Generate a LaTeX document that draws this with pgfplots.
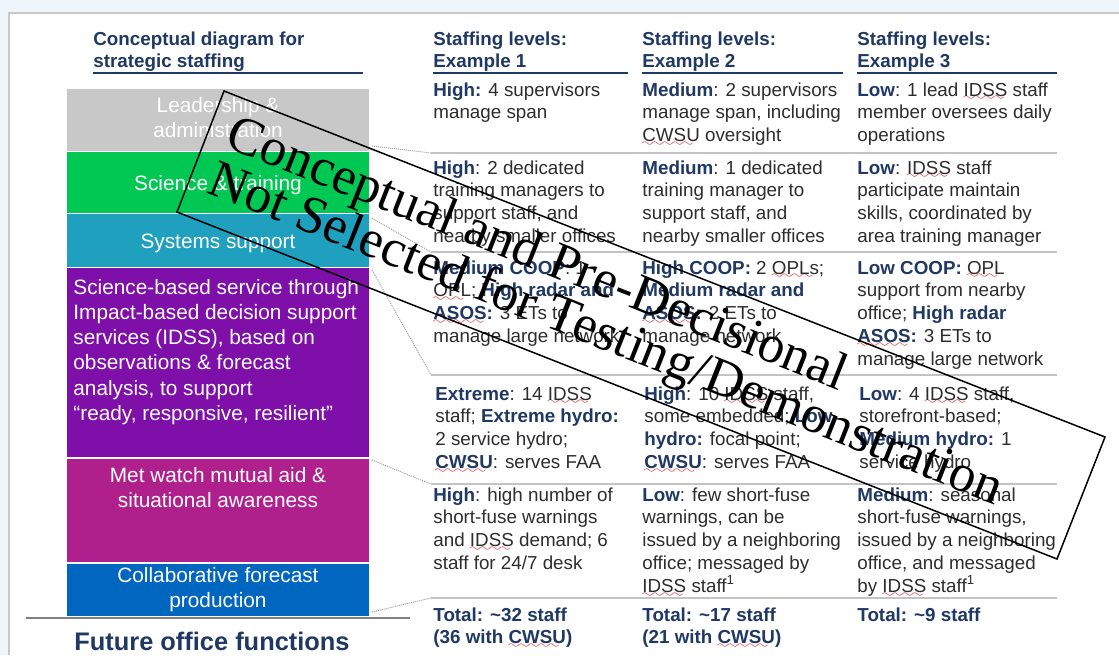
\documentclass[border=0pt]{standalone}
\usepackage{pgfplots}
\pgfplotsset{compat=1.18}
\usepackage{fontspec}
\setmainfont{Liberation Sans}
\newfontfamily\wmfont{Liberation Serif}
\definecolor{navy}{RGB}{31,56,100}
\definecolor{bodytxt}{RGB}{45,45,45}
\definecolor{sqred}{RGB}{225,50,50}
\definecolor{bggray}{RGB}{200,200,200}
\definecolor{bggreen}{RGB}{0,200,82}
\definecolor{bgteal}{RGB}{31,160,190}
\definecolor{bgpurple}{RGB}{126,15,168}
\definecolor{bgmagenta}{RGB}{176,32,140}
\definecolor{bgblue}{RGB}{0,102,192}
\definecolor{pagebg}{RGB}{238,246,252}
\definecolor{sepgray}{RGB}{195,195,195}
\font\sixly=lasy6
\newsavebox\sqbox
\newcommand\sq[1]{\leavevmode\sbox\sqbox{#1}\rlap{\textcolor{sqred}{\lower2.4pt\hbox to\wd\sqbox{\leaders\hbox{\sixly\char58}\hfill}}}\usebox\sqbox}
\newcommand\tb{\fontsize{9.4}{11.4}\selectfont}
\newcommand\bt{\fontsize{10.4}{12.65}\selectfont}
\newcommand\B[1]{\textbf{\color{navy}#1}}
\newcommand\cell[3]{\node[anchor=base west,inner sep=0pt,text=bodytxt] at (axis cs:#1,#2) {\parbox[t]{120pt}{\raggedright\tb #3}};}
\pgfplotsset{pixframe/.style={
  width=559.5pt, height=327.5pt, scale only axis, at={(0,0)}, anchor=south west,
  xmin=0, xmax=1119, ymin=0, ymax=655, y dir=reverse,
  hide axis, clip=false, enlargelimits=false}}
\begin{document}
\begin{tikzpicture}
% page background and white panel
\fill[pagebg] (0,0) rectangle (559.5pt,327.5pt);
\fill[white] (4.5pt,0) rectangle (559.5pt,321pt);
\draw[bggray,line width=0.8pt] (4.5pt,0) -- (4.5pt,321pt) -- (559.5pt,321pt);
% stacked column of office functions (heights in picture units, top to bottom)
\begin{axis}[pixframe, ybar stacked, bar width=304]
\addplot[fill=none, draw=none] coordinates {(218,88)};
\addplot[fill=bggray, draw=white, line width=0.7pt] coordinates {(218,63.5)};
\addplot[fill=bggreen, draw=white, line width=0.7pt] coordinates {(218,62)};
\addplot[fill=bgteal, draw=white, line width=0.7pt] coordinates {(218,54)};
\addplot[fill=bgpurple, draw=white, line width=0.7pt] coordinates {(218,190.5)};
\addplot[fill=bgmagenta, draw=white, line width=0.7pt] coordinates {(218,105)};
\addplot[fill=bgblue, draw=white, line width=0.7pt] coordinates {(218,54)};
\end{axis}
\begin{axis}[pixframe]
% baseline
\draw[gray, line width=1pt] (axis cs:26,617.5) -- (axis cs:410,617.5);
\node[anchor=base, inner sep=0pt, text=navy, font=\bfseries\fontsize{12.7}{14}\selectfont] at (axis cs:212,650) {Future office functions};

% bar labels
\node[anchor=base, inner sep=0pt, text=white] at (axis cs:218,112) {\parbox[t]{150pt}{\centering\bt Leadership \&\\administration}};
\node[anchor=base, inner sep=0pt, text=white] at (axis cs:218,190) {\parbox[t]{150pt}{\centering\bt Science \& training}};
\node[anchor=base, inner sep=0pt, text=white] at (axis cs:218,248) {\parbox[t]{150pt}{\centering\bt Systems support}};
\node[anchor=base west, inner sep=0pt, text=white] at (axis cs:73,294) {\parbox[t]{150pt}{\raggedright\bt Science-based service through\\Impact-based decision support\\services (IDSS), based on\\observations \& forecast\\analysis, to support\\“ready, responsive, resilient”}};
\node[anchor=base, inner sep=0pt, text=white] at (axis cs:218,482) {\parbox[t]{150pt}{\centering\bt Met watch mutual aid \&\\situational awareness}};
\node[anchor=base, inner sep=0pt, text=white] at (axis cs:218,582) {\parbox[t]{150pt}{\centering\bt Collaborative forecast\\production}};

% headers
\node[anchor=base west, inner sep=0pt, text=navy] at (axis cs:93,45) {\parbox[t]{150pt}{\raggedright\bfseries\tb Conceptual diagram for\\strategic staffing}};
\node[anchor=base west, inner sep=0pt, text=navy] at (axis cs:433,45) {\parbox[t]{120pt}{\raggedright\bfseries\tb Staffing levels:\\Example 1}};
\node[anchor=base west, inner sep=0pt, text=navy] at (axis cs:642,45) {\parbox[t]{120pt}{\raggedright\bfseries\tb Staffing levels:\\Example 2}};
\node[anchor=base west, inner sep=0pt, text=navy] at (axis cs:857,45) {\parbox[t]{120pt}{\raggedright\bfseries\tb Staffing levels:\\Example 3}};
\draw[navy, line width=0.75pt] (axis cs:93,73) -- (axis cs:363,73);
\draw[navy, line width=0.75pt] (axis cs:433,73) -- (axis cs:628,73);
\draw[navy, line width=0.75pt] (axis cs:642,73) -- (axis cs:843,73);
\draw[navy, line width=0.75pt] (axis cs:857,73) -- (axis cs:1057,73);

% row separators
\draw[sepgray, line width=0.6pt] (axis cs:431,153) -- (axis cs:1057,153);
\draw[sepgray, line width=0.6pt] (axis cs:431,252) -- (axis cs:1057,252);
\draw[sepgray, line width=0.6pt] (axis cs:431,375) -- (axis cs:1057,375);
\draw[sepgray, line width=0.6pt] (axis cs:431,484) -- (axis cs:1057,484);
\draw[sepgray, line width=0.6pt] (axis cs:431,598) -- (axis cs:1057,598);
% dotted connectors
\draw[gray!80, line width=0.45pt, dash pattern=on 0.5pt off 0.5pt] (axis cs:372,146) -- (axis cs:431,153);
\draw[gray!80, line width=0.45pt, dash pattern=on 0.5pt off 0.5pt] (axis cs:372,218) -- (axis cs:431,252);
\draw[gray!80, line width=0.45pt, dash pattern=on 0.5pt off 0.5pt] (axis cs:372,270) -- (axis cs:431,375);
\draw[gray!80, line width=0.45pt, dash pattern=on 0.5pt off 0.5pt] (axis cs:372,460) -- (axis cs:431,484);
\draw[gray!80, line width=0.45pt, dash pattern=on 0.5pt off 0.5pt] (axis cs:372,612) -- (axis cs:431,598);

% row 1
\cell{433}{96}{\B{High:} 4 supervisors\\manage span}
\cell{642}{96}{\B{Medium}: 2 supervisors\\manage span, including\\\sq{CWSU} oversight}
\cell{857}{96}{\B{Low}: 1 lead \sq{IDSS} staff\\member oversees daily\\operations}
% row 2
\cell{433}{174}{\B{High}: 2 dedicated\\training managers to\\support staff, and\\nearby smaller offices}
\cell{642}{174}{\B{Medium}: 1 dedicated\\training manager to\\support staff, and\\nearby smaller offices}
\cell{857}{174}{\B{Low}: \sq{IDSS} staff\\participate maintain\\skills, coordinated by\\area training manager}
% row 3
\cell{433}{274}{\B{Medium COOP}: 1\\\sq{OPL}; \B{High radar and}\\\B{\sq{ASOS}:} 3 ETs to\\manage large network}
\cell{642}{274}{\B{High COOP:} 2 \sq{OPLs};\\\B{Medium radar and}\\\B{\sq{ASOS}:} 2 ETs to\\manage network}
\cell{857}{274}{\B{Low COOP:} \sq{OPL}\\support from nearby\\office; \B{High radar}\\\B{\sq{ASOS}:} 3 ETs to\\manage large network}
% row 4
\cell{435}{400}{\B{Extreme}: 14 \sq{IDSS}\\staff; \B{Extreme hydro:}\\2 service hydro;\\\B{\sq{CWSU}}: serves FAA}
\cell{644}{400}{\B{High}: 10 \sq{IDSS} staff,\\some embedded; \B{Low}\\\B{hydro:} focal point;\\\B{\sq{CWSU}}: serves FAA}
\cell{859}{400}{\B{Low}: 4 \sq{IDSS} staff,\\storefront-based;\\\B{Medium hydro:} 1\\service hydro}
% row 5
\cell{433}{501}{\B{High}: high number of\\short-fuse warnings\\and \sq{IDSS} demand; 6\\staff for 24/7 desk}
\cell{642}{501}{\B{Low}: few short-fuse\\warnings, can be\\issued by a neighboring\\office; messaged by\\\sq{IDSS} staff\textsuperscript{1}}
\cell{857}{501}{\B{Medium}: seasonal\\short-fuse warnings,\\issued by a neighboring\\office, and messaged\\by \sq{IDSS} staff\textsuperscript{1}}
% row 6
\cell{433}{621}{\B{Total: \textasciitilde32 staff}\\\B{(36 with \sq{CWSU})}}
\cell{642}{621}{\B{Total: \textasciitilde17 staff}\\\B{(21 with \sq{CWSU})}}
\cell{857}{621}{\B{Total: \textasciitilde9 staff}}

% watermark
\draw[black, line width=0.75pt] (axis cs:224,91) -- (axis cs:1105,437) -- (axis cs:1057,559) -- (axis cs:177,212) -- cycle;
\node[anchor=base west, inner sep=0pt, rotate=-21.6, font=\wmfont\fontsize{26.6}{30}\selectfont] at (axis cs:223.5,146.7) {Conceptual and Pre-Decisional};
\node[anchor=base west, inner sep=0pt, rotate=-21.6, font=\wmfont\fontsize{26.6}{30}\selectfont] at (axis cs:205.4,192.3) {Not Selected for Testing/Demonstration};
\end{axis}
\pgfresetboundingbox
\path[use as bounding box] (0,0) rectangle (559.5pt,327.5pt);
\end{tikzpicture}
\end{document}
